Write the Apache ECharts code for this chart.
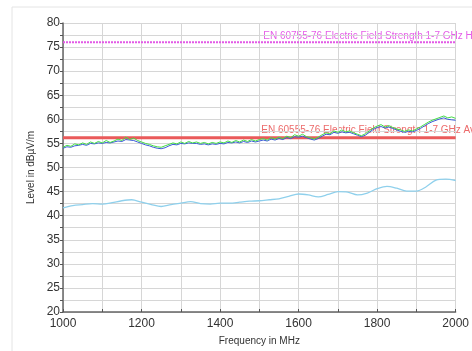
<!DOCTYPE html>
<html>
<head>
    <meta charset="utf-8">
    <title>EMC scan</title>
    <script src="https://cdn.jsdelivr.net/npm/echarts@6/dist/echarts.min.js"></script>
    <style>
        html, body { margin: 0; padding: 0; background: #fff; }
    </style>
</head>
<body>
    <div id="c" style="width: 472px;height:351px;"></div>
    <script>
    // frequency axis
    var freqStart = 1000, freqStep = 10, freqStepAvg = 25;
    var xTicks = [1000, 1200, 1400, 1600, 1800, 2000];
    var yTicks = [20, 25, 30, 35, 40, 45, 50, 55, 60, 65, 70, 75, 80];

    // limit lines
    var limitHigh = 76;
    var limitLow = 56.2;
    var limitHighLabel = 'EN 60755-76 Electric Field Strength 1-7 GHz Horizontal';
    var limitLowLabel = 'EN 60555-76 Electric Field Strength 1-7 GHz Average';

    // peak trace (green), one value per 10 MHz
    var peakVals = [
        54.2, 54.6, 54.4, 54.9, 54.7, 55.1, 54.8, 55.3, 55.0, 55.4,
        55.1, 55.6, 55.2, 55.5, 55.9, 55.6, 56.3, 55.8, 56.1, 55.6,
        55.3, 55.0, 54.8, 54.5, 54.3, 54.2, 54.5, 54.8, 55.1, 54.9,
        55.3, 55.0, 55.4, 55.1, 55.3, 55.0, 55.2, 54.9, 55.2, 55.0,
        55.3, 55.1, 55.5, 55.2, 55.6, 55.3, 55.7, 55.4, 55.8, 55.5,
        55.8, 56.0, 55.7, 56.2, 55.9, 56.3, 56.0, 56.5, 56.2, 56.8,
        56.5, 56.9, 56.4, 56.2, 55.9, 56.3, 56.8, 57.2, 57.0, 57.6,
        57.3, 57.8, 57.4, 57.6, 57.2, 56.9, 56.6, 57.0, 57.6, 58.2,
        58.6, 58.9, 58.4, 58.7, 58.3, 58.0, 57.8, 57.5, 57.8, 57.6,
        58.0, 58.4, 58.9, 59.4, 59.8, 60.1, 60.4, 60.7, 60.3, 60.5, 60.2
    ];
    // quasi-peak trace (blue), one value per 10 MHz
    var qpVals = [
        54.0, 54.3, 54.2, 54.5, 54.6, 54.8, 54.6, 55.0, 54.9, 55.1,
        55.0, 55.2, 55.1, 55.3, 55.5, 55.4, 55.8, 55.7, 55.6, 55.3,
        55.0, 54.7, 54.5, 54.2, 54.0, 53.9, 54.1, 54.5, 54.8, 54.7,
        55.0, 54.9, 55.1, 55.0, 55.0, 54.8, 54.9, 54.7, 54.9, 54.8,
        55.0, 54.9, 55.2, 55.1, 55.3, 55.1, 55.4, 55.2, 55.5, 55.3,
        55.5, 55.7, 55.5, 55.9, 55.7, 56.0, 55.8, 56.2, 56.0, 56.4,
        56.3, 56.5, 56.2, 55.9, 55.7, 56.0, 56.5, 56.9, 56.8, 57.3,
        57.1, 57.4, 57.2, 57.3, 57.0, 56.7, 56.4, 56.7, 57.3, 57.9,
        58.3, 58.5, 58.2, 58.4, 58.1, 57.8, 57.5, 57.3, 57.5, 57.4,
        57.7, 58.1, 58.6, 59.1, 59.5, 59.8, 60.1, 60.3, 60.0, 59.9, 59.8
    ];
    // average trace (light blue), one value per 25 MHz
    var avgVals = [
        41.6, 42.1, 42.3, 42.5, 42.4, 42.7, 43.1, 43.3, 42.8, 42.3,
        41.9, 42.3, 42.6, 42.9, 42.5, 42.4, 42.6, 42.6, 42.8, 43.0,
        43.1, 43.3, 43.5, 44.0, 44.5, 44.3, 43.9, 44.4, 45.0, 44.9,
        44.3, 44.7, 45.6, 46.1, 45.7, 45.1, 45.1, 46.0, 47.4, 47.6, 47.3
    ];

    function pairs(vals, step) {
        return vals.map(function (v, i) { return [freqStart + i * step, v]; });
    }

    var chart = echarts.init(document.getElementById('c'), null, {renderer: 'canvas'});
    var font = 'Liberation Sans, Arial, sans-serif';
    var frame = {
        type: 'rect',
        shape: {x: 12, y: 7, width: 470, height: 350},
        style: {fill: 'none', stroke: '#e4e4e4', lineWidth: 1},
        silent: true
    };

    var option = {
        animation: false,
        backgroundColor: '#fff',
        grid: {left: 63, right: 15, top: 23, bottom: 35},
        graphic: [frame],
        xAxis: {
            type: 'value',
            min: 1000, max: 2000, interval: 100,
            name: 'Frequency in MHz',
            nameLocation: 'middle',
            nameGap: 24,
            nameTextStyle: {fontFamily: font, fontSize: 10, color: '#333'},
            axisLine: {lineStyle: {color: '#666', width: 1.5}},
            axisTick: {inside: true, length: 3, lineStyle: {color: '#555'}},
            axisLabel: {
                fontFamily: font, fontSize: 12, color: '#333', margin: 6,
                formatter: function (v) { return xTicks.indexOf(v) >= 0 ? String(v) : ''; }
            },
            splitLine: {show: true, lineStyle: {color: '#d6d6d6', width: 1}}
        },
        yAxis: {
            type: 'value',
            min: 20, max: 80, interval: 2.5,
            name: 'Level in dB\u00b5V/m',
            nameLocation: 'middle',
            nameRotate: 90,
            nameGap: 25,
            nameTextStyle: {fontFamily: font, fontSize: 10, color: '#333'},
            axisLine: {show: true, lineStyle: {color: '#666', width: 1.5}},
            axisTick: {show: true, length: 3, lineStyle: {color: '#555'}},
            axisLabel: {
                fontFamily: font, fontSize: 12, color: '#333', margin: 3,
                formatter: function (v) { return yTicks.indexOf(v) >= 0 ? String(v) : ''; }
            },
            splitLine: {show: true, lineStyle: {color: '#d6d6d6', width: 1}}
        },
        series: [
            {
                name: 'limit high', type: 'line', symbol: 'none',
                data: [[1000, limitHigh], [2000, limitHigh]],
                lineStyle: {color: '#e25ae6', width: 2, type: [2, 1]}
            },
            {
                name: 'limit low', type: 'line', symbol: 'none',
                data: [[1000, limitLow], [2000, limitLow]],
                lineStyle: {color: '#ea5a5a', width: 3}
            },
            {
                name: 'average', type: 'line', symbol: 'none',
                data: pairs(avgVals, freqStepAvg), smooth: 0.3,
                lineStyle: {color: '#8fd0ec', width: 1.3}
            },
            {
                name: 'qp', type: 'line', symbol: 'none',
                data: pairs(qpVals, freqStep),
                lineStyle: {color: '#3a5ad8', width: 1}
            },
            {
                name: 'peak', type: 'line', symbol: 'none',
                data: pairs(peakVals, freqStep),
                lineStyle: {color: '#44dd44', width: 1}
            }
        ]
    };
    chart.setOption(option);

    // limit line captions, placed through the grid's own scale
    var pHigh = chart.convertToPixel({gridIndex: 0}, [1510, limitHigh]);
    var pLow = chart.convertToPixel({gridIndex: 0}, [1505, limitLow]);
    chart.setOption({
        graphic: [frame, {
            type: 'text', x: pHigh[0], y: pHigh[1] - 1, silent: true,
            style: {text: limitHighLabel, fill: '#e55ce8', font: '10px ' + font, textVerticalAlign: 'bottom'}
        }, {
            type: 'text', x: pLow[0], y: pLow[1] - 2, silent: true,
            style: {text: limitLowLabel, fill: '#ec6a6a', font: '10px ' + font, textVerticalAlign: 'bottom'}
        }]
    });
    </script>
</body>
</html>
